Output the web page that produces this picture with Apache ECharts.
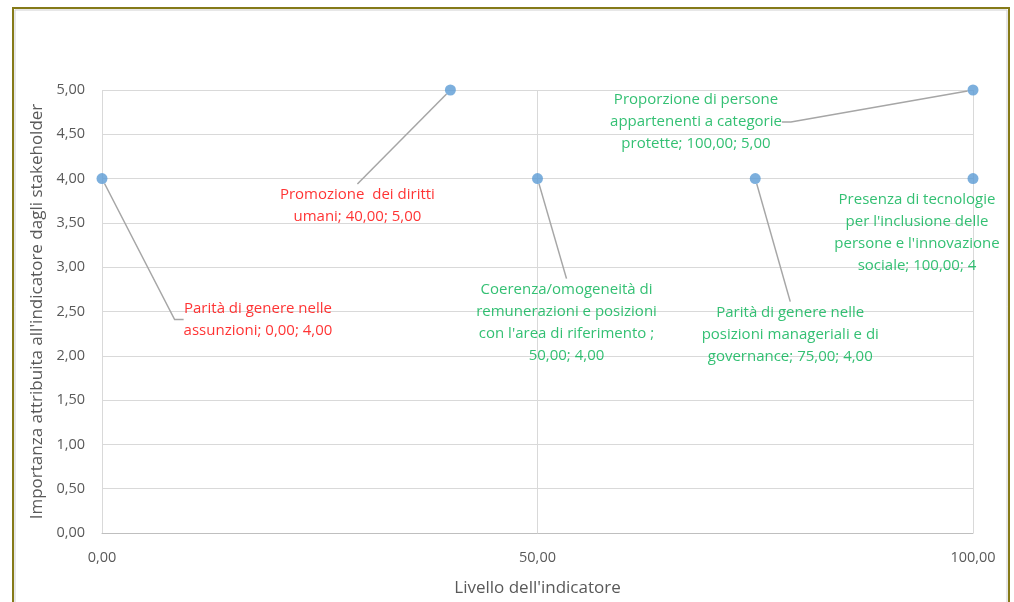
<!DOCTYPE html>
<html>
<head>
<meta charset="utf-8">
<script src="https://cdn.jsdelivr.net/npm/echarts@6/dist/echarts.min.js"></script>
<style>
  html, body { margin: 0; padding: 0; background: #ffffff; }
  #chart { width: 1014px; height: 602px; }
</style>
</head>
<body>
<div id="chart"></div>
<script>
// Indicator level (x) and stakeholder importance (y) for each indicator
const indicatorLevel = [0, 40, 50, 75, 100, 100];
const stakeholderImportance = [4, 5, 4, 4, 5, 4];
const labelTexts = [
  "Parità di genere nelle\nassunzioni; 0,00; 4,00",
  "Promozione  dei diritti\numani; 40,00; 5,00",
  "Coerenza/omogeneità di\nremunerazioni e posizioni\ncon l'area di riferimento ;\n50,00; 4,00",
  "Parità di genere nelle\nposizioni manageriali e di\ngovernance; 75,00; 4,00",
  "Proporzione di persone\nappartenenti a categorie\nprotette; 100,00; 5,00",
  "Presenza di tecnologie\nper l'inclusione delle\npersone e l'innovazione\nsociale; 100,00; 4"
];
const labelColors = ["#FF0000", "#FF0000", "#00B050", "#00B050", "#00B050", "#00B050"];
const xTickLabels = ["0,00", "50,00", "100,00"];

// Where each data label sits relative to its marker, its leader line,
// and extra side padding that steers the leader line onto the label's top edge
const labelPlacement = [
  { offset: [156, 141], line: true, stub: 9, pad: 0 },
  { offset: [-93, 116], line: true, stub: 0, pad: 90 },
  { offset: [29, 144], line: true, stub: 0, pad: 0 },
  { offset: [35, 156], line: true, stub: 0, pad: 0 },
  { offset: [-277, 32], line: true, stub: 9, pad: 0 },
  { offset: [-56, 54], line: false, stub: 0, pad: 0 }
];

const FONT = "Open Sans";
const fmt = v => v.toFixed(2).replace('.', ',');

const points = indicatorLevel.map((x, i) => ({
  value: [x, stakeholderImportance[i]],
  label: {
    formatter: labelTexts[i],
    color: labelColors[i],
    offset: labelPlacement[i].offset,
    padding: [0, labelPlacement[i].pad, 0, labelPlacement[i].pad]
  },
  labelLine: { show: labelPlacement[i].line, length2: labelPlacement[i].stub }
}));

const chart = echarts.init(document.getElementById('chart'), null, { renderer: 'canvas' });
chart.setOption({
  animation: false,
  backgroundColor: '#ffffff',
  graphic: [
    { type: 'rect', silent: true, z: -1,
      shape: { x: 13, y: 8, width: 996, height: 620 },
      style: { fill: 'none', stroke: '#857a18', lineWidth: 2 } },
    { type: 'rect', silent: true, z: -1,
      shape: { x: 15, y: 10, width: 992, height: 620 },
      style: { fill: 'none', stroke: '#cfcfcf', lineWidth: 1 } }
  ],
  grid: { left: 102, right: 41, top: 90, bottom: 66 },
  xAxis: {
    type: 'value', min: 0, max: 100, interval: 50,
    name: "Livello dell'indicatore",
    nameLocation: 'middle', nameGap: 47,
    nameTextStyle: { color: '#595959', fontSize: 17, fontFamily: FONT },
    axisLine: { show: true, lineStyle: { color: '#bfbfbf', width: 1 } },
    axisTick: { show: false },
    splitLine: { show: true, lineStyle: { color: '#d9d9d9', width: 1 } },
    axisLabel: {
      color: '#595959', fontSize: 14.5, fontFamily: FONT, margin: 17,
      formatter: v => xTickLabels[Math.round(v / 50)] || fmt(v)
    }
  },
  yAxis: {
    type: 'value', min: 0, max: 5, interval: 0.5,
    name: "Importanza attribuita all'indicatore dagli stakeholder",
    nameLocation: 'middle', nameGap: 49, nameRotate: 90,
    nameTextStyle: { color: '#595959', fontSize: 17, fontFamily: FONT },
    axisLine: { show: false },
    axisTick: { show: false },
    splitLine: { show: true, lineStyle: { color: '#d9d9d9', width: 1 } },
    axisLabel: { color: '#595959', fontSize: 14.5, fontFamily: FONT, margin: 17, formatter: fmt }
  },
  series: [{
    type: 'scatter',
    symbol: 'circle',
    symbolSize: 11,
    itemStyle: { color: '#5B9BD5' },
    label: {
      show: true,
      position: 'inside',
      align: 'center',
      verticalAlign: 'middle',
      fontSize: 15,
      lineHeight: 22,
      fontFamily: FONT
    },
    labelLine: {
      show: true,
      lineStyle: { color: '#a6a6a6', width: 1.5 }
    },
    data: points
  }]
});
</script>
</body>
</html>
